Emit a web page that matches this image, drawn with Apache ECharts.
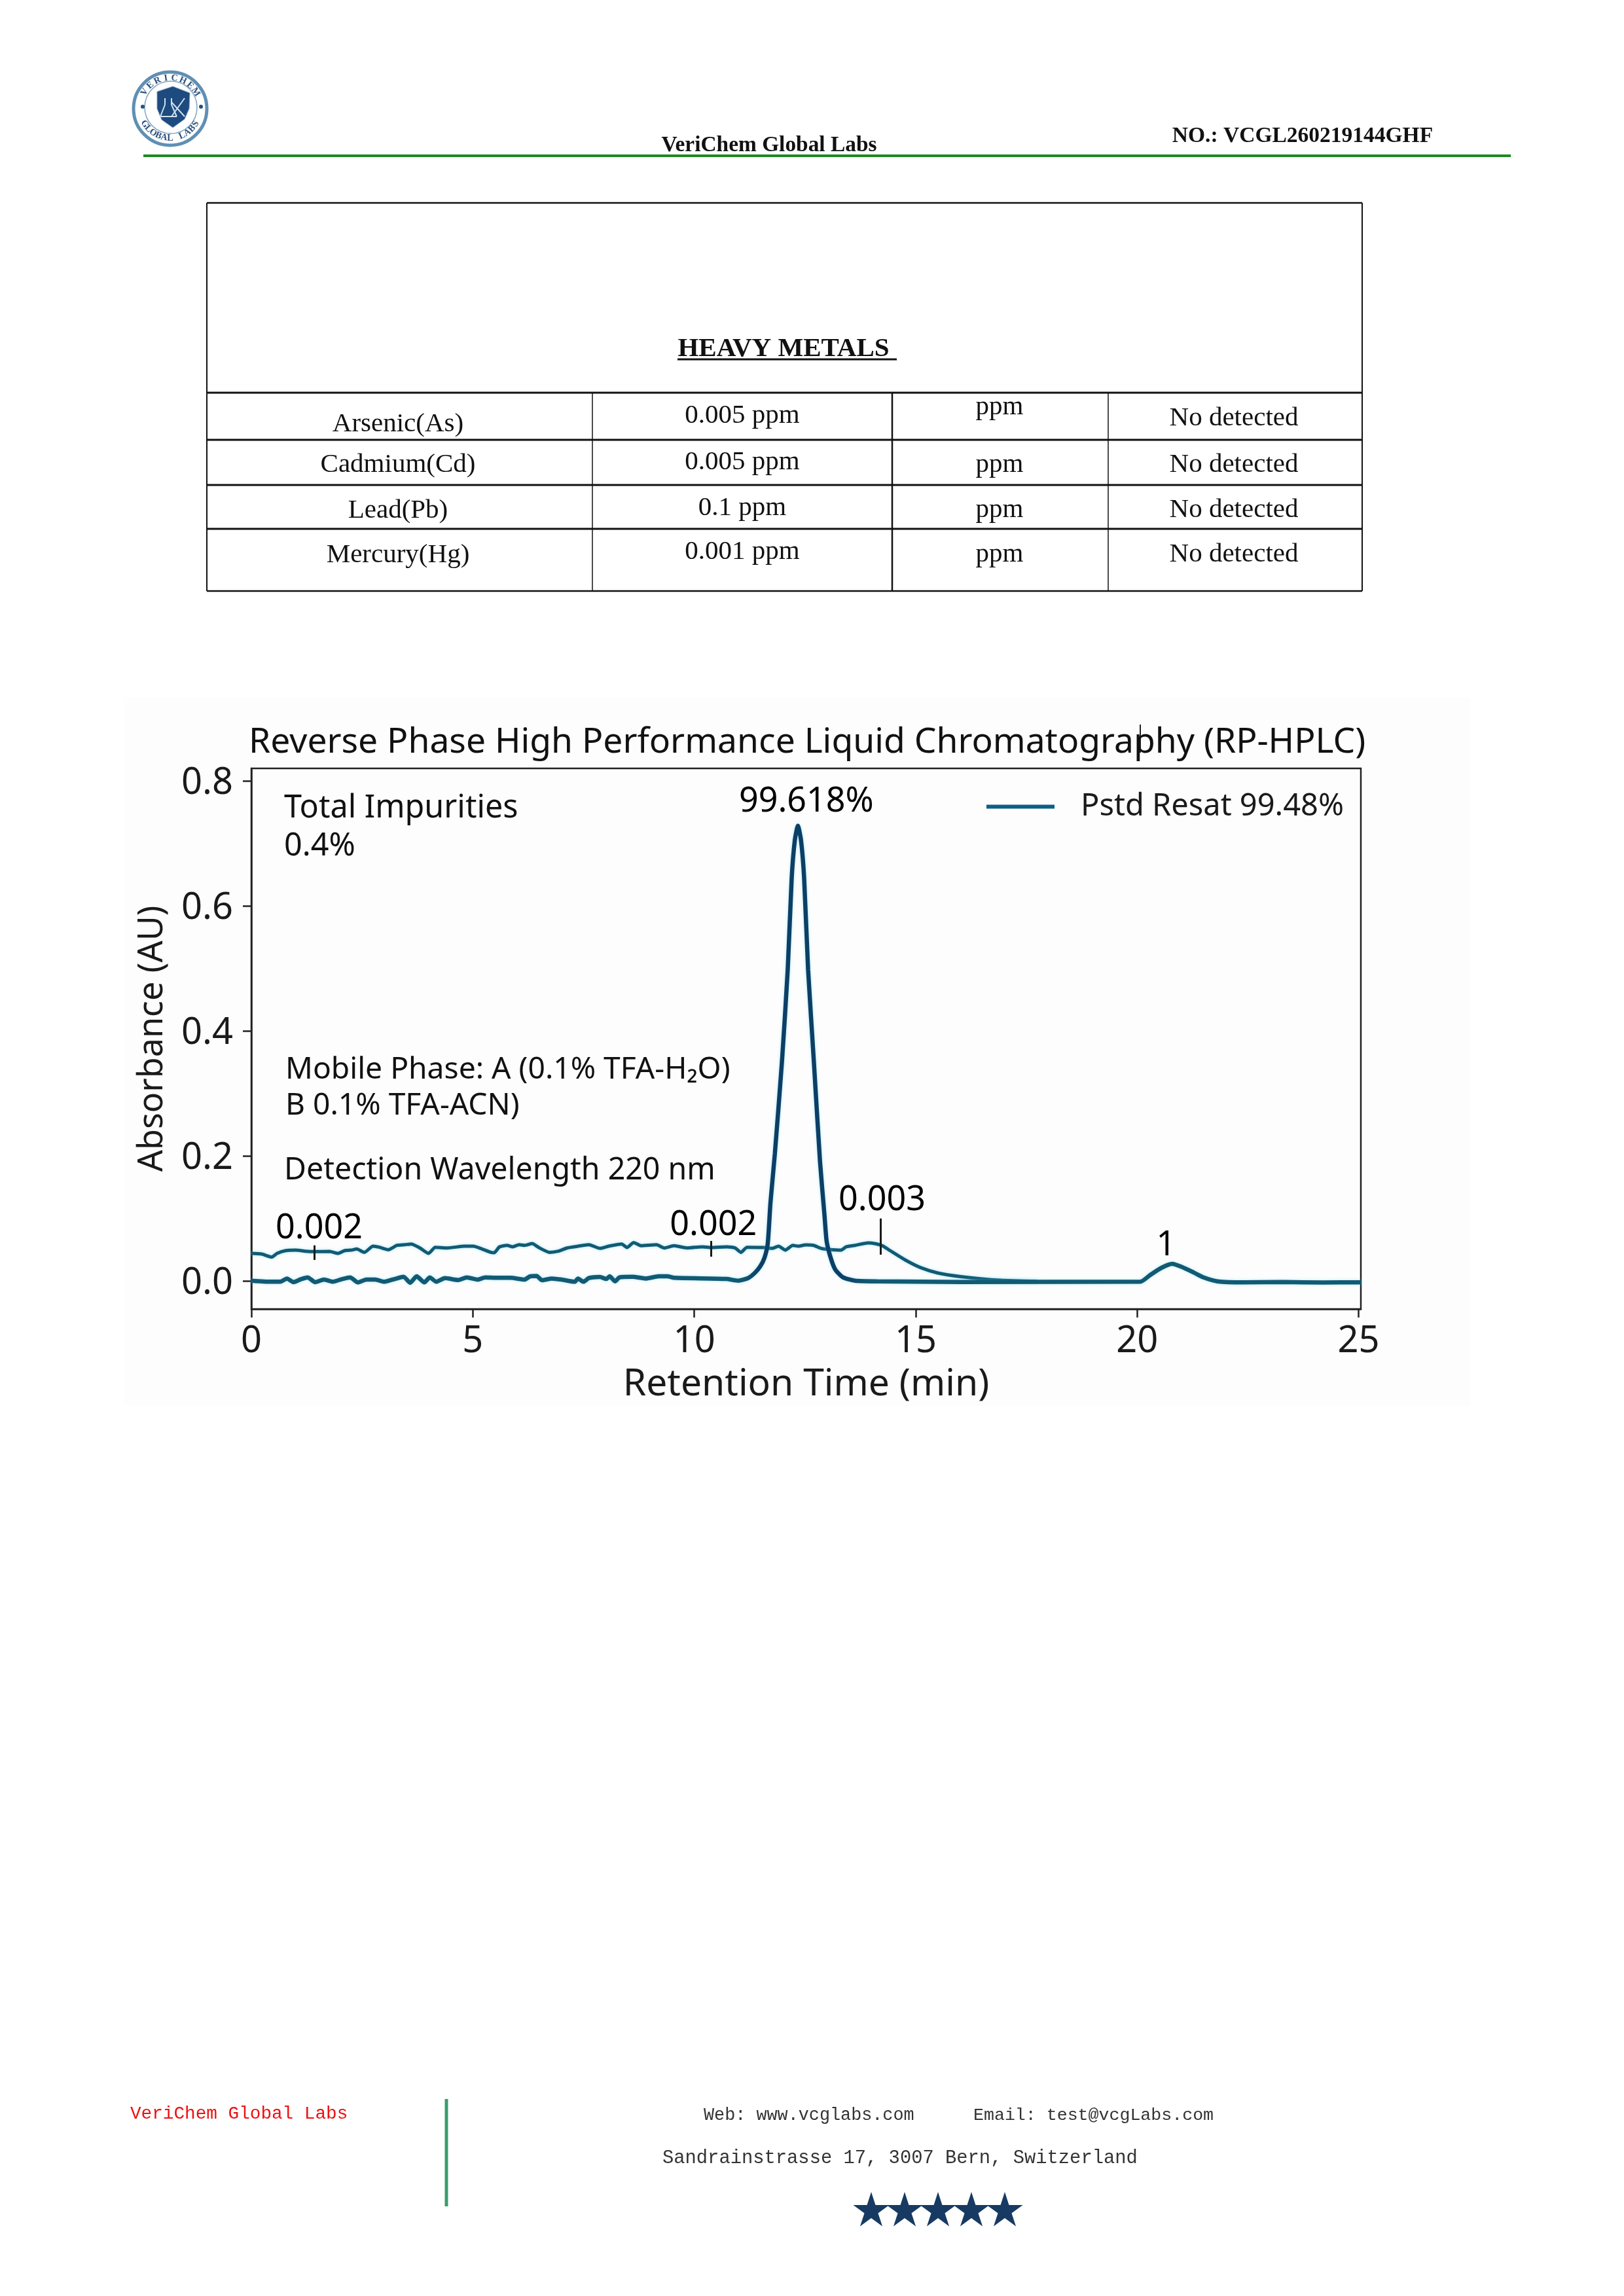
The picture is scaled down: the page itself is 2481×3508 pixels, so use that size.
<!DOCTYPE html>
<html><head><meta charset="utf-8">
<style>html,body{margin:0;padding:0;background:#fff}#c{width:2481px;height:3508px}</style>
<script src="https://cdn.jsdelivr.net/npm/echarts@6/dist/echarts.min.js"></script>
</head><body><div id="c"></div>
<script>
const upperTimes=[0,0.236,0.458,0.581,0.778,0.999,1.221,1.418,1.763,1.96,2.107,2.255,2.378,2.551,2.748,2.895,3.092,3.289,3.462,3.609,3.806,4.003,4.151,4.422,4.815,5.012,5.209,5.406,5.48,5.603,5.775,5.898,6.046,6.169,6.341,6.489,6.735,6.932,7.129,7.375,7.621,7.868,8.065,8.36,8.483,8.631,8.803,9.148,9.32,9.542,9.837,10.182,10.379,10.723,10.921,11.054,11.191,11.561,11.758,11.905,12.053,12.225,12.348,12.521,12.693,12.865,13.038,13.309,13.432,13.629,13.924,14.072,14.244,14.466,14.761,15.106,15.5,16.041,16.91,17.74];
const upperValues=[0.044,0.0429,0.038,0.044,0.0485,0.0492,0.0475,0.0468,0.0471,0.044,0.0485,0.0492,0.051,0.0457,0.0555,0.0538,0.0499,0.0569,0.0579,0.059,0.0527,0.044,0.0538,0.0527,0.0555,0.0555,0.051,0.0457,0.045,0.0545,0.0569,0.0545,0.0579,0.0569,0.0597,0.0534,0.0457,0.0475,0.0527,0.0555,0.0579,0.052,0.0555,0.059,0.0534,0.0614,0.0562,0.0579,0.0527,0.0562,0.0527,0.0545,0.0534,0.0545,0.0527,0.0457,0.0538,0.0534,0.052,0.0555,0.0492,0.0569,0.0555,0.0576,0.0569,0.052,0.0503,0.0492,0.0545,0.0569,0.0607,0.0597,0.0562,0.0464,0.0335,0.0213,0.0126,0.0066,0.001,-0.0007];
const mainTimes=[0,0.433,0.655,0.803,0.95,1.123,1.27,1.443,1.64,1.837,2.058,2.231,2.403,2.6,2.797,2.994,3.191,3.437,3.585,3.732,3.905,4.028,4.175,4.372,4.668,4.865,5.111,5.283,5.553,5.849,6.169,6.292,6.44,6.563,6.784,7.006,7.301,7.375,7.498,7.621,7.868,8.015,8.089,8.212,8.311,8.606,8.901,9.197,9.394,9.542,10.723,10.995,11.216,11.364,11.487,11.585,11.659,11.72,11.82,11.98,12.11,12.2,12.27,12.34,12.41,12.48,12.57,12.7,12.84,12.94,12.989,13.087,13.186,13.358,13.629,14.121,16.04,20.07,20.3,20.55,20.79,21.0,21.28,21.5,21.81,22.4,23.3,24.2,25.05];
const mainValues=[0.0003,-0.0014,-0.0014,0.0038,-0.0021,0.0028,0.0056,-0.0021,0.0021,-0.0014,0.0031,0.0056,-0.0024,0.0021,0.0021,-0.0014,0.0021,0.0066,-0.0031,0.0073,-0.0024,0.0056,-0.0014,0.0045,0.0014,0.0056,0.0021,0.0056,0.0049,0.0049,0.0021,0.0073,0.008,0.001,0.0038,0.0021,-0.0014,0.0038,-0.0014,0.0045,0.0063,0.0031,0.0073,-0.0007,0.0056,0.0066,0.0038,0.0073,0.0073,0.0049,0.0031,0.0003,0.0045,0.0126,0.023,0.037,0.0597,0.125,0.204,0.351,0.498,0.645,0.705,0.728,0.705,0.645,0.498,0.351,0.19,0.105,0.0632,0.0353,0.0178,0.0056,0.0003,-0.0007,-0.0017,-0.0014,0.0098,0.021,0.0272,0.0225,0.0133,0.0055,-0.0007,-0.0024,-0.0018,-0.0026,-0.0022];
const xTickLabels=[0,5,10,15,20,25];
const yTickLabels=[0,0.2,0.4,0.6,0.8];
const peakLabels=['0.002','0.002','99.618%','0.003','1'];
const peakLabelTimes=[1.53,10.43,12.53,14.24,20.65];
const peakLabelValues=[0.0674,0.0736,0.751,0.113,0.041];
const markTimes=[1.42,10.38,14.2];
const markLows=[0.0335,0.0387,0.0419];
const markHighs=[0.0569,0.0639,0.0998];
const legendName='Pstd Resat 99.48%';
const tableRows=[['Arsenic(As)','0.005 ppm','ppm','No detected'],['Cadmium(Cd)','0.005 ppm','ppm','No detected'],['Lead(Pb)','0.1 ppm','ppm','No detected'],['Mercury(Hg)','0.001 ppm','ppm','No detected']];

const zip=(a,b)=>a.map((v,i)=>[v,b[i]]);
const SERIF='"Liberation Serif"',SANS='"Noto Sans"',MONO='"Liberation Mono"';
const g=[];
const T=(text,x,y,size,o={})=>g.push({type:'text',z:o.z||5,style:{text,x,y,fill:o.fill||'#111',font:(o.weight||'normal')+' '+size+'px '+(o.family||SERIF),textAlign:o.align||'left',textVerticalAlign:'middle'},rotation:o.rot||0});
const L=(x1,y1,x2,y2,w,c)=>g.push({type:'line',z:4,shape:{x1,y1,x2,y2},style:{stroke:c||'#111',lineWidth:w||2}});

// plot photo background
g.push({type:'rect',z:-1,shape:{x:190,y:1066,width:2056,height:1082},style:{fill:'#fdfdfd'}});

// header
T('VeriChem Global Labs',1175,222,33.4,{weight:'bold',align:'center'});
T('NO.: VCGL260219144GHF',1990,208,33.5,{weight:'bold',align:'center'});
L(219,238,2308,238,4,'#1b8a22');

// logo
g.push({type:'circle',z:3,shape:{cx:260,cy:166,r:56},style:{fill:'#fff',stroke:'#5f8fb4',lineWidth:5}});
g.push({type:'circle',z:3,shape:{cx:261,cy:164,r:40},style:{fill:'#fff',stroke:'#7fa3c0',lineWidth:1.5}});
g.push({type:'polygon',z:4,shape:{points:[[240,140],[264,132],[290,142],[289,166],[282,182],[264,195],[247,183],[240,166]]},style:{fill:'#1d4a7f',stroke:'#7fa3c0',lineWidth:1}});
L(252,150,252,160,2,'#cfe0ee');L(252,160,245,178,2,'#cfe0ee');L(245,178,270,178,2,'#cfe0ee');L(270,178,262,160,2,'#cfe0ee');L(262,160,262,150,2,'#cfe0ee');
L(262,178,282,150,2,'#cfe0ee');L(262,156,282,178,2,'#cfe0ee');
g.push({type:'circle',z:4,shape:{cx:218,cy:163,r:3},style:{fill:'#24507f'}});
g.push({type:'circle',z:4,shape:{cx:307,cy:163,r:3},style:{fill:'#24507f'}});
const arc=(s,from,to,r)=>{[...s].forEach((c,i)=>{const a=(from+(to-from)*i/(s.length-1))*Math.PI/180;const lower=to<from;
  g.push({type:'text',z:5,x:260+r*Math.sin(a),y:165-r*Math.cos(a),rotation:lower?Math.PI-a:-a,style:{text:c,font:'bold 14px '+SERIF,fill:'#2a4f7c',textAlign:'center',textVerticalAlign:'middle'}});});};
arc('VERICHEM',-58,58,46);
arc('GLOBAL LABS',238,122,46);

// table
const tx=[316,905,1363,1693,2081],ty=[310,600,672,741,808,903];
L(tx[0],ty[0],tx[4],ty[0],2.5);L(tx[0],ty[1],tx[4],ty[1],3);L(tx[0],ty[2],tx[4],ty[2],3);L(tx[0],ty[3],tx[4],ty[3],3);L(tx[0],ty[4],tx[4],ty[4],3);L(tx[0],ty[5],tx[4],ty[5],2.5);
L(tx[0],ty[0],tx[0],ty[5],2);L(tx[4],ty[0],tx[4],ty[5],2);
[1,2,3].forEach(i=>L(tx[i],ty[1],tx[i],ty[5],i===2?2.5:1.5));
T('HEAVY METALS',1197,533,41,{weight:'bold',align:'center'});
L(1035,549,1370,549,3);
const cx=[608,1134,1527,1885];
const rowY=[[648,635,622,639],[710,706,710,710],[780,776,779,779],[848,843,847,847]];
tableRows.forEach((r,i)=>r.forEach((c,j)=>T(c,cx[j],rowY[i][j],41,{align:'center'})));

// plot texts
T('Reverse Phase High Performance Liquid Chromatography (RP-HPLC)',380,1135,53.4,{family:SANS});
L(1742,1107,1742,1150,2,'#222');
T('Total Impurities',434,1235,48.5,{family:SANS});
T('0.4%',434,1293,48.5,{family:SANS});
T('Mobile Phase: A (0.1% TFA-H₂O)',436,1635,46.2,{family:SANS});
T('B 0.1% TFA-ACN)',436,1690,46.2,{family:SANS});
T('Detection Wavelength 220 nm',434,1789,46.5,{family:SANS});

// footer
T('VeriChem Global Labs',199,3230,27.7,{family:MONO,fill:'#f01010'});
L(682,3207,682,3371,5,'#3a9d6e');
T('Web: www.vcglabs.com',1075,3232,26.8,{family:MONO,fill:'#333'});
T('Email: test@vcgLabs.com',1487,3232,26.6,{family:MONO,fill:'#333'});
T('Sandrainstrasse 17, 3007 Bern, Switzerland',1012,3297,28.8,{family:MONO,fill:'#333'});
for(let s=0;s<5;s++){const c=1331+s*51,pts=[];for(let k=0;k<10;k++){const a=k*Math.PI/5,r=k%2?11:29;pts.push([c+r*Math.sin(a),3378-r*Math.cos(a)]);}
  g.push({type:'polygon',z:4,shape:{points:pts},style:{fill:'#173a63'}});}

const chart=echarts.init(document.getElementById('c'),null,{renderer:'canvas'});
const axisFont={fontFamily:SANS,fontSize:56,color:'#1a1a1a'};
const mainStroke={type:'linear',x:384,y:0,x2:2079,y2:0,global:true,colorStops:[{offset:0,color:'#125a74'},{offset:0.44,color:'#125a74'},{offset:0.46,color:'#0c3f66'},{offset:0.53,color:'#0c3f66'},{offset:0.56,color:'#125a74'},{offset:1,color:'#125a74'}]};
chart.setOption({
  animation:false,backgroundColor:'#fff',
  grid:{left:384,top:1174,width:1695,height:826,show:true,borderColor:'#222',borderWidth:2.5,backgroundColor:'transparent',z:2},
  legend:{show:true,left:1502,top:1204,data:[legendName],itemWidth:104,itemHeight:6,icon:'rect',itemStyle:{color:'#0d5f85'},
    textStyle:{fontFamily:SANS,fontSize:47,color:'#1a1a1a',padding:[0,0,0,35]}},
  xAxis:{type:'value',min:0,max:25.05,
    name:'Retention Time (min)',nameLocation:'middle',nameGap:87,nameTextStyle:{fontFamily:SANS,fontSize:57,color:'#1a1a1a'},
    splitLine:{show:false},axisLine:{onZero:false,lineStyle:{color:'#222',width:2.5}},
    axisTick:{length:13,lineStyle:{color:'#222',width:2.5},customValues:xTickLabels},
    axisLabel:{...axisFont,margin:22,customValues:xTickLabels}},
  yAxis:{type:'value',min:-0.045,max:0.82,
    name:'Absorbance (AU)',nameLocation:'middle',nameGap:125,nameRotate:90,nameTextStyle:{fontFamily:SANS,fontSize:52,color:'#1a1a1a'},
    splitLine:{show:false},axisLine:{onZero:false,lineStyle:{color:'#222',width:2.5}},
    axisTick:{length:13,lineStyle:{color:'#222',width:2.5},customValues:yTickLabels},
    axisLabel:{...axisFont,margin:28,customValues:yTickLabels,formatter:v=>'{t|'+v.toFixed(1)+'}',
      rich:{t:{fontFamily:SANS,fontSize:56,color:'#1a1a1a',padding:[8,0,0,0]}}}},
  series:[
    {name:'Upper baseline',type:'line',showSymbol:false,symbol:'none',z:3,data:zip(upperTimes,upperValues),smooth:0.2,
     lineStyle:{color:'#125a74',width:5,shadowColor:'rgba(90,210,240,0.55)',shadowBlur:4}},
    {name:legendName,type:'line',showSymbol:false,symbol:'none',z:4,data:zip(mainTimes,mainValues),smooth:0.2,
     itemStyle:{color:'#0d5f85'},
     lineStyle:{color:mainStroke,width:6.5,shadowColor:'rgba(90,210,240,0.5)',shadowBlur:4},
     markLine:{silent:true,symbol:'none',animation:false,label:{show:false},lineStyle:{color:'#1a1a1a',width:3,type:'solid',opacity:1},
       data:markTimes.map((t,i)=>[{coord:[t,markLows[i]]},{coord:[t,markHighs[i]]}])}},
    {name:'Peak labels',type:'scatter',symbol:'circle',symbolSize:0,itemStyle:{color:'#fff',opacity:1},z:6,
     data:peakLabelTimes.map((t,i)=>({value:[t,peakLabelValues[i]],name:peakLabels[i]})),
     label:{show:true,position:'top',distance:-11,formatter:p=>p.name,fontFamily:SANS,fontSize:52,color:'#000',opacity:1},
     emphasis:{disabled:true}}
  ],
  graphic:{elements:g}
});
</script></body></html>
